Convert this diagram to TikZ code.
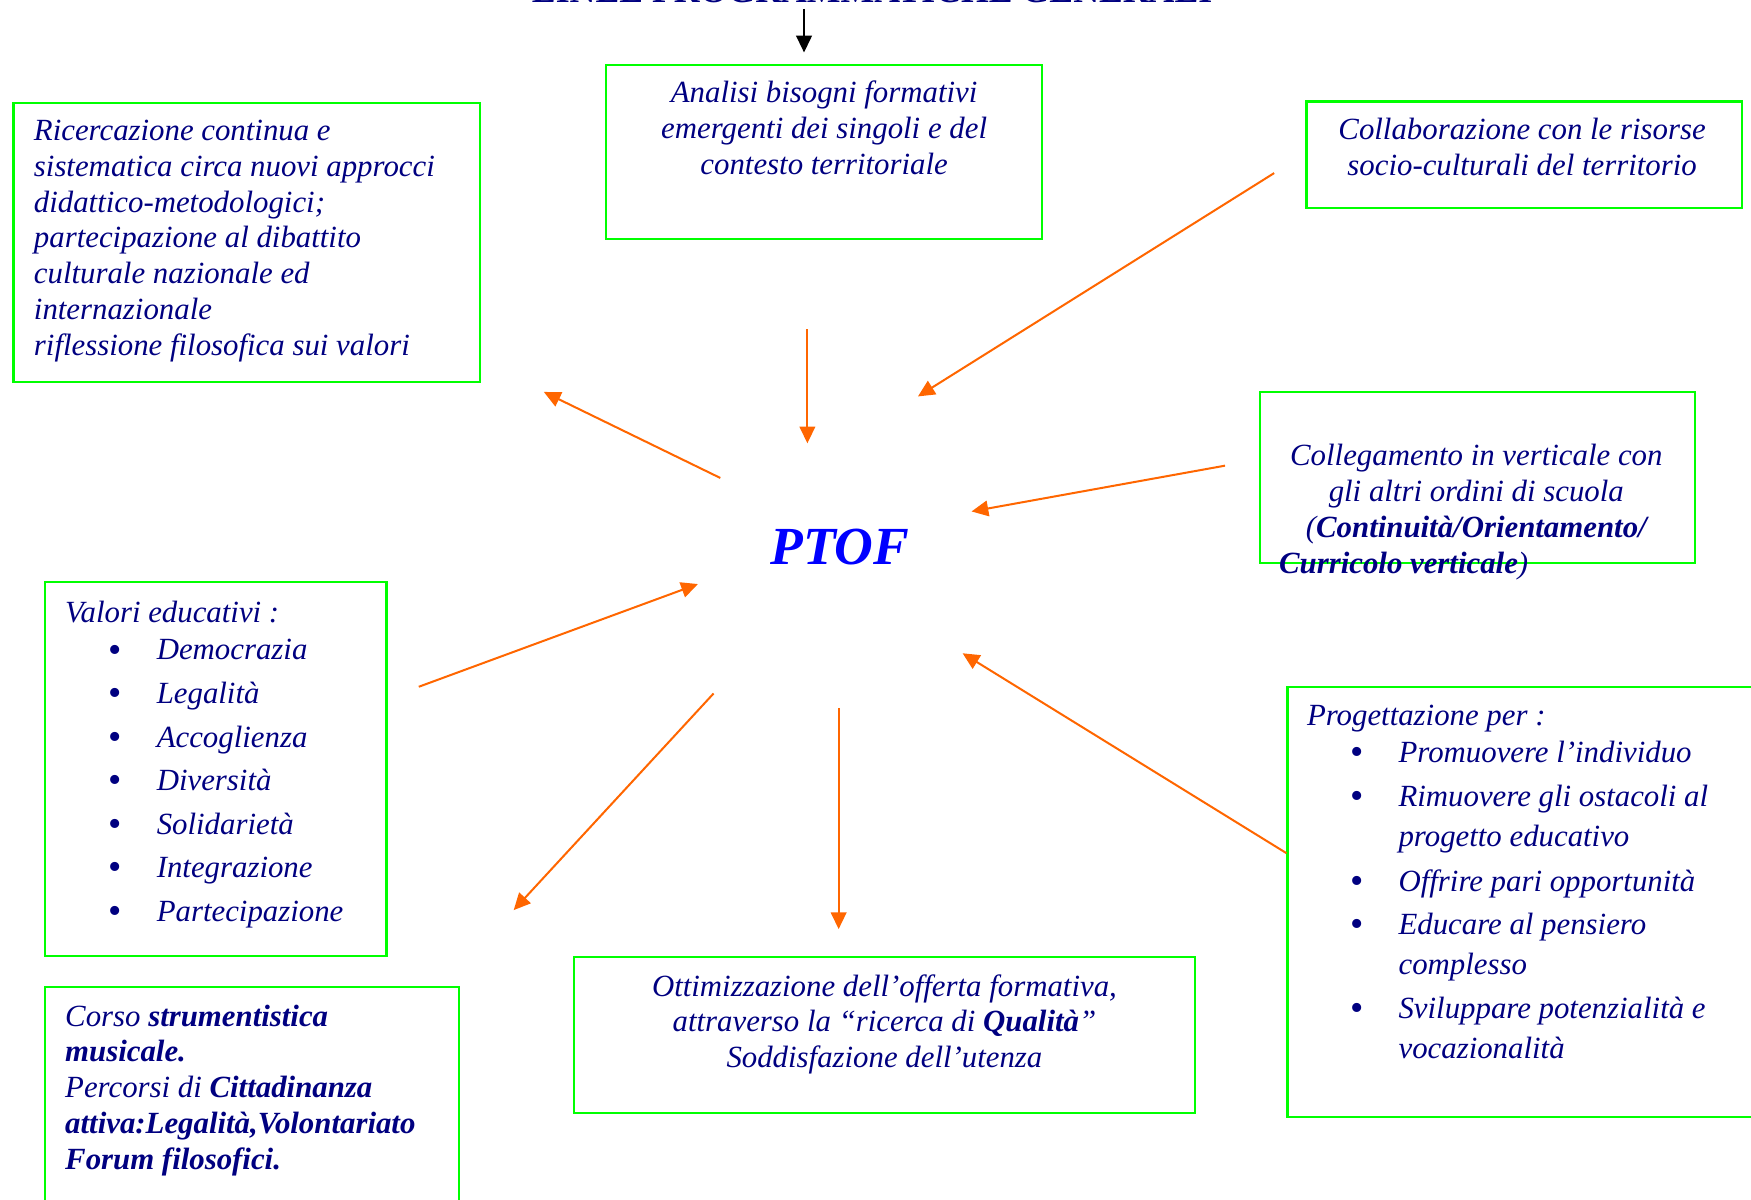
\documentclass[tikz,border=0pt]{standalone}
\usepackage{fontspec}
\setmainfont{Liberation Serif}
\usetikzlibrary{arrows.meta}

\definecolor{navytext}{RGB}{0,0,128}
\definecolor{boxgreen}{RGB}{0,255,0}
\definecolor{flow}{RGB}{255,102,0}

% bullet item of the lists
\newcommand{\itm}{\makebox[41pt][l]{\hspace*{19.5pt}\raisebox{-1pt}{\fontsize{17}{16}\selectfont\upshape\textbullet}}}
\newcommand{\cont}{\hspace*{41pt}}

\begin{document}
\begin{tikzpicture}[
    x=0.5pt, y=-0.5pt,
    box/.style={rectangle, draw=boxgreen, line width=1pt, inner sep=0pt},
    txt/.style={font=\fontsize{13.8}{16}\selectfont\itshape, text=navytext, inner sep=0pt},
    arrow/.style={-{Triangle[length=7.5pt,width=7pt]}, line width=0.9pt, draw=flow}
]
\useasboundingbox (0,0) rectangle (1568,1074);

% Title (cut at the top)
\node[font=\fontsize{16}{18}\selectfont\bfseries, text=navytext, anchor=base, inner sep=0pt] (linee) at (781,2) {LINEE PROGRAMMATICHE GENERALI};

% Boxes
\node[box, minimum width=195pt, minimum height=78pt] (analisi) at (738,136) {};
\node[box, minimum width=209pt, minimum height=125pt] (ricerca) at (221,217) {};
\node[box, minimum width=195pt, minimum height=47.5pt] (collab) at (1365,138.5) {};
\node[box, minimum width=195pt, minimum height=76.5pt] (colleg) at (1323,427.5) {};
\node[box, minimum width=153pt, minimum height=167.5pt] (valori) at (193,688.5) {};
\node[box, minimum width=223.5pt, minimum height=192.5pt] (proget) at (1376.5,807.5) {};
\node[box, minimum width=278pt, minimum height=70pt] (ottim) at (792,927) {};
\node[box, minimum width=185.5pt, minimum height=108pt] (corso) at (225.5,992) {};

% Texts (base = baseline of the last line)
\node[txt, align=center, anchor=base] (analisiT) at (738,156)
  {Analisi bisogni formativi\\emergenti dei singoli e del\\contesto territoriale};
\node[txt, align=left, anchor=base west] (ricercaT) at (30,318)
  {Ricercazione continua e\\sistematica circa nuovi approcci\\didattico-metodologici;\\partecipazione al dibattito\\culturale nazionale ed\\internazionale\\riflessione filosofica sui valori};
\node[txt, align=center, anchor=base] (collabT) at (1363,157)
  {Collaborazione con le risorse\\socio-culturali del territorio};
\node[txt, align=center, anchor=base] (collegT) at (1322,481)
  {Collegamento in verticale con\\gli altri ordini di scuola\\(\textbf{Continuità/Orientamento/}};
\node[txt, anchor=base west] (collegB) at (1145,514) {\textbf{Curricolo verticale})};
\node[txt, align=left, anchor=base west] (valoriT) at (58,825)
  {Valori educativi :\\[1pt]
   \itm Democrazia\\[3.5pt]
   \itm Legalità\\[3.5pt]
   \itm Accoglienza\\[3.5pt]
   \itm Diversità\\[3.5pt]
   \itm Solidarietà\\[3.5pt]
   \itm Integrazione\\[3.5pt]
   \itm Partecipazione};
\node[txt, align=left, anchor=base west] (progetT) at (1170,948)
  {Progettazione per :\\[0.5pt]
   \itm Promuovere l’individuo\\[3.5pt]
   \itm Rimuovere gli ostacoli al\\[2pt]
   \cont progetto educativo\\[4pt]
   \itm Offrire pari opportunità\\[3.5pt]
   \itm Educare al pensiero\\[2pt]
   \cont complesso\\[3.5pt]
   \itm Sviluppare potenzialità e\\[2pt]
   \cont vocazionalità};
\node[txt, align=center, anchor=base] (ottimT) at (792,956)
  {Ottimizzazione dell’offerta formativa,\\attraverso la “ricerca di \textbf{Qualità}”\\Soddisfazione dell’utenza};
\node[txt, align=left, anchor=base west] (corsoT) at (58,1047)
  {Corso \textbf{strumentistica}\\\textbf{musicale.}\\Percorsi di \textbf{Cittadinanza}\\\textbf{attiva:Legalità,Volontariato}\\\textbf{Forum filosofici.}};

% Centre
\node[font=\fontsize{24}{28}\selectfont\bfseries\itshape, text=blue] (ptof) at (752,490) {PTOF};

% Arrow ends
\coordinate (lineeS) at (720,8);
\coordinate (analisiN) at (720,47);
\coordinate (analisiS) at (723,295);
\coordinate (ptofN) at (723,397);
\coordinate (collabS) at (1141,155);
\coordinate (ptofNE) at (822,355);
\coordinate (ptofNW) at (645,428);
\coordinate (ricercaS) at (487,351);
\coordinate (collegW) at (1097,417);
\coordinate (ptofE) at (870,458);
\coordinate (valoriE) at (375,615);
\coordinate (ptofW) at (625,523);
\coordinate (progetW) at (1152,764);
\coordinate (ptofSE) at (862,585);
\coordinate (ptofSW) at (639,621);
\coordinate (corsoN) at (460,815);
\coordinate (ptofS) at (751,634);
\coordinate (ottimN) at (751,832);

% Connections
\draw[arrow, draw=black, line width=0.8pt] (lineeS) -- (analisiN);
\draw[arrow] (analisiS) -- (ptofN);
\draw[arrow] (collabS) -- (ptofNE);
\draw[arrow] (ptofNW) -- (ricercaS);
\draw[arrow] (collegW) -- (ptofE);
\draw[arrow] (valoriE) -- (ptofW);
\draw[arrow] (progetW) -- (ptofSE);
\draw[arrow] (ptofSW) -- (corsoN);
\draw[arrow] (ptofS) -- (ottimN);

\end{tikzpicture}
\end{document}
